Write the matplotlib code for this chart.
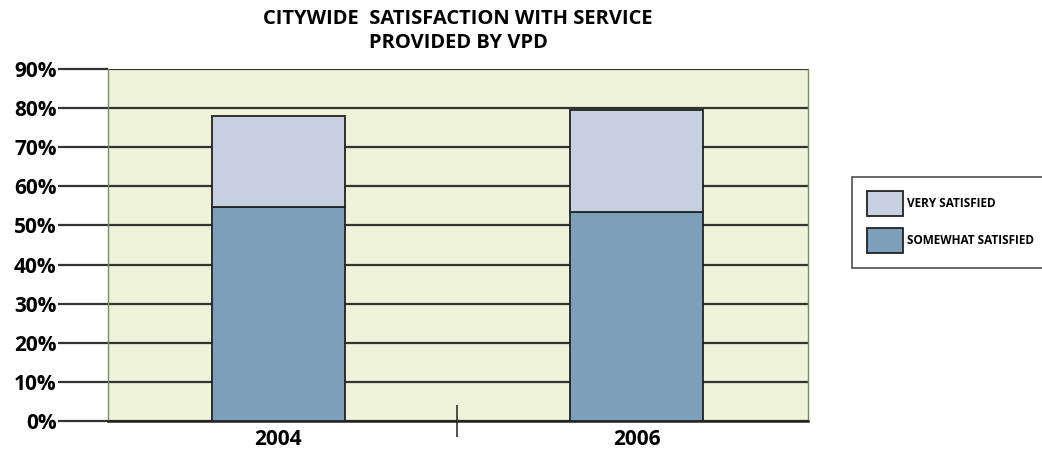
import numpy as np
import matplotlib.pyplot as plt
from matplotlib.ticker import FixedLocator

plt.rcParams['font.family'] = ['Open Sans', 'DejaVu Sans']

years = ['2004', '2006']
somewhat = [54.7, 53.5]
very = [23.3, 26.0]
y_ticks = [0, 10, 20, 30, 40, 50, 60, 70, 80, 90]

x = np.arange(len(years))
width = 0.37

fig = plt.figure(figsize=(10.42, 4.59), dpi=100)
ax = fig.add_axes([0.1036, 0.0828, 0.6718, 0.767])
ax.set_facecolor('#eef3d9')

ax.bar(x, somewhat, width, color='#7e9fba', edgecolor='#222222', linewidth=1.3,
       label='SOMEWHAT SATISFIED', zorder=3)
ax.bar(x, very, width, bottom=somewhat, color='#c6d0e0', edgecolor='#222222',
       linewidth=1.3, label='VERY SATISFIED', zorder=3)

ax.set_xlim(-0.476, 1.479)
ax.set_ylim(0, 90)
ax.set_yticks(y_ticks)
ax.set_yticklabels([f'{v}%' for v in y_ticks], fontsize=15, fontweight='bold')
ax.yaxis.grid(True, color='#333333', linewidth=1.6, zorder=1)
ax.tick_params(axis='y', length=36, width=1.6, color='#333333', pad=1)

ax.set_xticks(x)
ax.set_xticklabels(years, fontsize=15, fontweight='bold')
ax.tick_params(axis='x', which='major', length=0, pad=6)
ax.xaxis.set_minor_locator(FixedLocator([0.5]))
ax.tick_params(axis='x', which='minor', direction='inout', length=23, width=1.2,
               color='#333333')

for side in ['left', 'right']:
    ax.spines[side].set_color('#7a8a6a')
    ax.spines[side].set_linewidth(1.0)
ax.spines['top'].set_visible(False)
ax.spines['bottom'].set_color('#222222')
ax.spines['bottom'].set_linewidth(1.8)
ax.set_axisbelow(True)

fig.text(0.4395, 0.933, 'CITYWIDE  SATISFACTION WITH SERVICE\nPROVIDED BY VPD',
         ha='center', va='center', fontsize=14.5, fontweight='bold',
         linespacing=1.25)

handles, labels = ax.get_legend_handles_labels()
leg = fig.legend(handles[::-1], labels[::-1], loc='upper left',
                 bbox_to_anchor=(0.818, 0.614),
                 prop={'weight': 'bold', 'size': 8.5},
                 frameon=True, fancybox=False, edgecolor='#222222',
                 handlelength=3.1, handleheight=2.9, labelspacing=1.0,
                 borderpad=1.2, handletextpad=0.35, borderaxespad=0)
leg.get_frame().set_linewidth(1.2)

fig.savefig('out.png', dpi=100)
